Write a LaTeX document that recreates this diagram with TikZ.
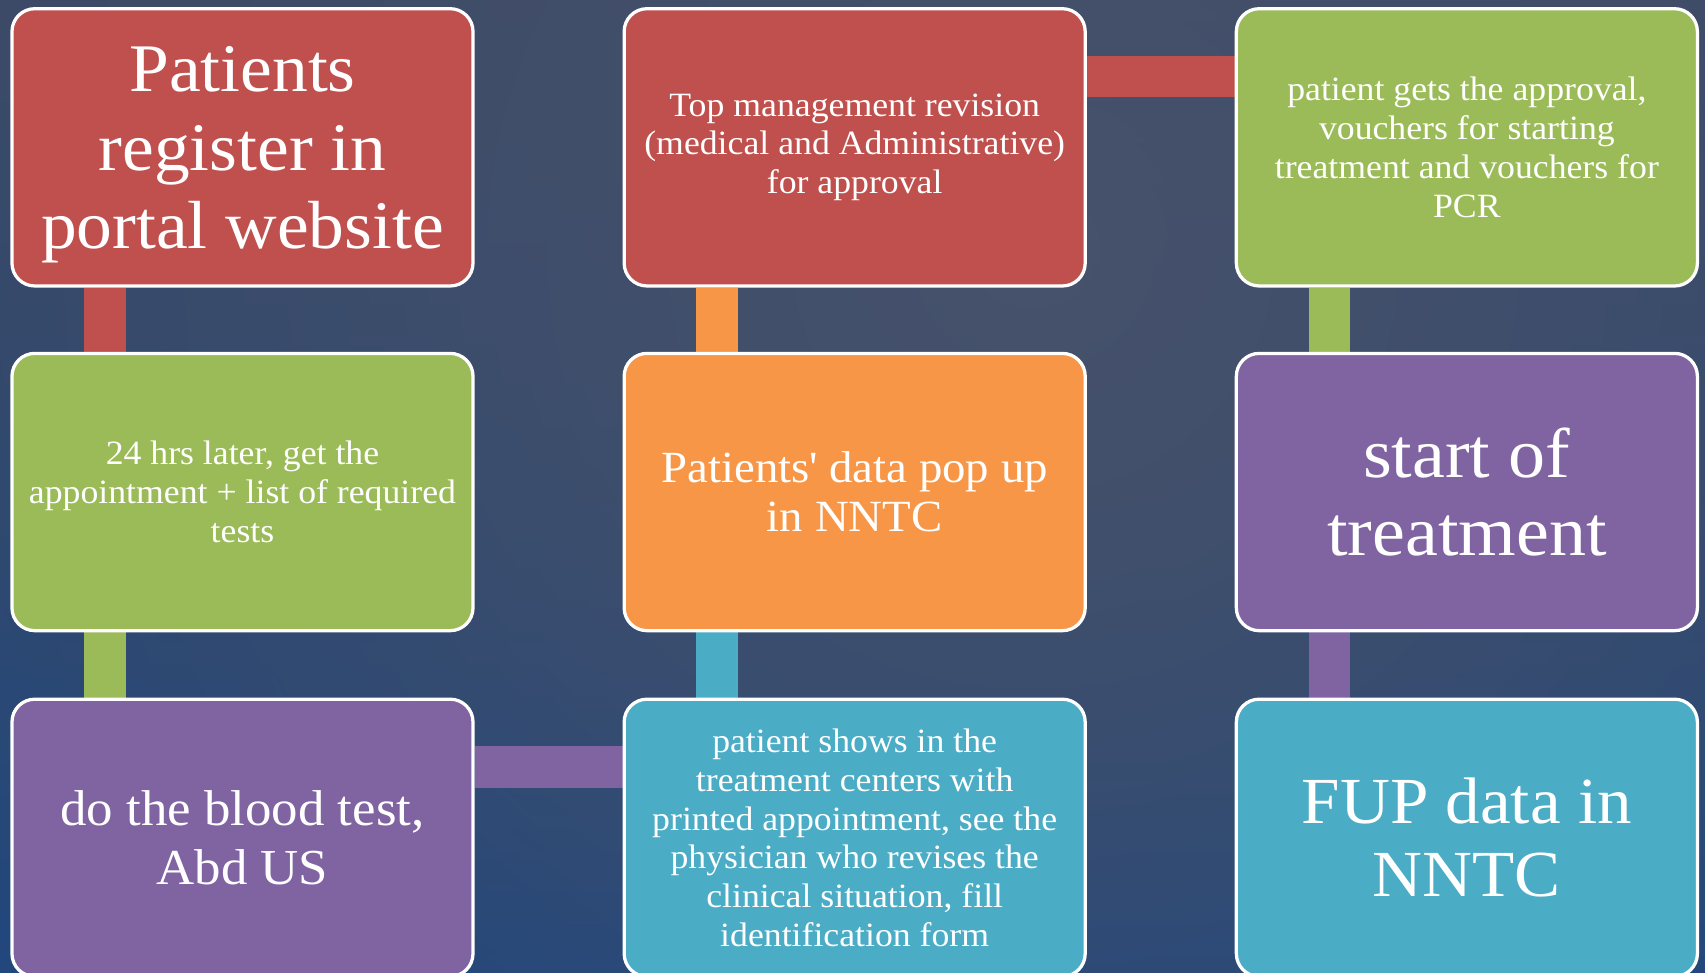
\documentclass[tikz,border=0pt]{standalone}
\usepackage{fontspec}
\setmainfont{Liberation Serif}[FakeStretch=1.05]
\usetikzlibrary{fadings}
\tikzfading[name=softspot, inner color=transparent!0, outer color=transparent!100]
\pgfdeclarelayer{bg}
\pgfdeclarelayer{bars}
\pgfsetlayers{bg,bars,main}
\definecolor{bgtop}{HTML}{3C4A67}
\definecolor{bgmid}{HTML}{30496F}
\definecolor{bgbot}{HTML}{21477D}
\definecolor{bglight}{HTML}{47526B}
\definecolor{cred}{HTML}{C0504D}
\definecolor{cgreen}{HTML}{9BBB59}
\definecolor{cpurple}{HTML}{8064A2}
\definecolor{ccyan}{HTML}{4BACC6}
\definecolor{corange}{HTML}{F79646}
\newcommand{\fs}[2]{\fontsize{#1}{#2}\selectfont}
\tikzset{
  stepbox/.style={draw=white, line width=3pt, rounded corners=21pt, minimum width=424pt, minimum height=255pt, inner sep=0pt, text=white, align=center},
  steptext/.style={text=white, align=center, inner sep=0pt},
  bar/.style={line width=38pt}
}
\begin{document}
\begin{tikzpicture}[x=1pt,y=-1pt]
\useasboundingbox (0,0) rectangle (1568,894);
\begin{pgfonlayer}{bg}
\begin{scope}
\clip (0,0) rectangle (1568,894);
\shade[top color=bgtop, bottom color=bgbot, middle color=bgmid] (0,0) rectangle (1568,894);
\fill[bglight, path fading=softspot] (950,230) circle (1000);
\end{scope}
\end{pgfonlayer}
\node[stepbox, fill=cred] (a1) at (223,135.5) {};
\node[steptext, font=\fs{62.6}{72}] (a1t) at ([yshift=-7pt]a1.center) {Patients\\register in\\portal website};
\node[stepbox, fill=cgreen, font=\fs{31.3}{36}] (a2) at (223,452.5) {24 hrs later, get the\\appointment + list of required\\tests};
\node[stepbox, fill=cpurple, font=\fs{46.3}{54}] (a3) at (223,770.5) {do the blood test,\\Abd US};
\node[stepbox, fill=ccyan, font=\fs{31.3}{35.6}] (b3) at (786,770.5) {patient shows in the\\treatment centers with\\printed appointment, see the\\physician who revises the\\clinical situation, fill\\identification form};
\node[stepbox, fill=corange, font=\fs{41}{45}] (b2) at (786,452.5) {Patients\textquotesingle{} data pop up\\in NNTC};
\node[stepbox, fill=cred, font=\fs{31.3}{35}] (b1) at (786,135.5) {Top management revision\\(medical and Administrative)\\for approval};
\node[stepbox, fill=cgreen, font=\fs{31.3}{36}] (c1) at (1349,135.5) {patient gets the approval,\\vouchers for starting\\treatment and vouchers for\\PCR};
\node[stepbox, fill=cpurple, font=\fs{64.8}{72}] (c2) at (1349,452.5) {start of\\treatment};
\node[stepbox, fill=ccyan, font=\fs{60.5}{67}] (c3) at (1349,770.5) {FUP data in\\NNTC};
\begin{pgfonlayer}{bars}
\draw[bar, cred] ([xshift=87pt]a1.south west) -- ([xshift=87pt]a2.north west);
\draw[bar, cgreen] ([xshift=87pt]a2.south west) -- ([xshift=87pt]a3.north west);
\draw[bar, cpurple] ([yshift=-64pt]a3.north east) -- ([yshift=-64pt]b3.north west);
\draw[bar, ccyan] ([xshift=87pt]b3.north west) -- ([xshift=87pt]b2.south west);
\draw[bar, corange] ([xshift=87pt]b2.north west) -- ([xshift=87pt]b1.south west);
\draw[bar, cred] ([yshift=-64pt]b1.north east) -- ([yshift=-64pt]c1.north west);
\draw[bar, cgreen] ([xshift=87pt]c1.south west) -- ([xshift=87pt]c2.north west);
\draw[bar, cpurple] ([xshift=87pt]c2.south west) -- ([xshift=87pt]c3.north west);
\end{pgfonlayer}
\end{tikzpicture}
\end{document}
